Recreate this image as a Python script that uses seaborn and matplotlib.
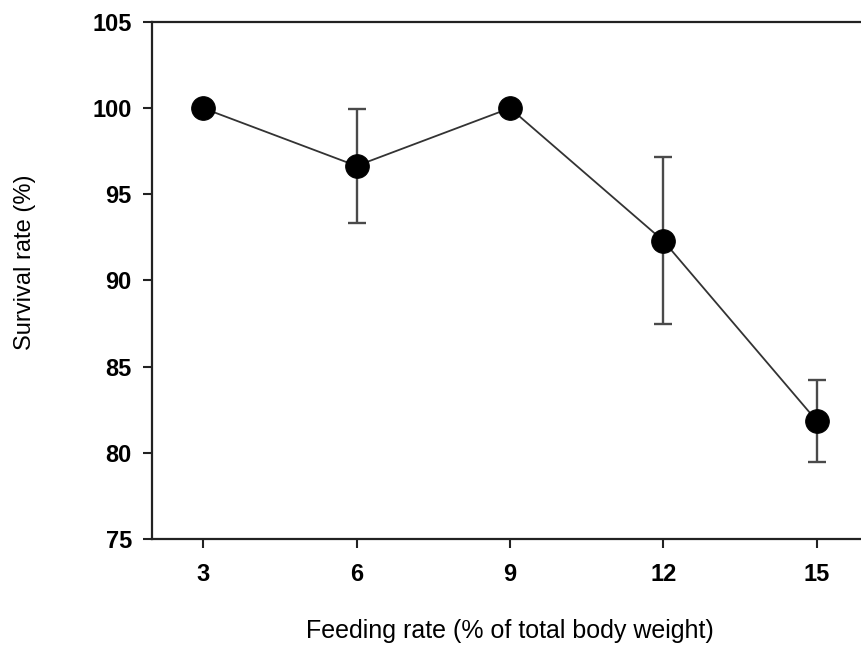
import matplotlib
matplotlib.use("Agg")
import matplotlib.pyplot as plt
import seaborn as sns
import pandas as pd

# values
feeding_rate = [3, 6, 9, 12, 15]
survival = [100.0, 96.65, 100.0, 92.3, 81.85]
survival_err = [0.0, 3.33, 0.0, 4.85, 2.4]
y_ticks = [75, 80, 85, 90, 95, 100, 105]

df = pd.DataFrame({"rate": feeding_rate, "survival": survival, "err": survival_err})

sns.set_style("ticks")
plt.rcParams["font.family"] = ["Liberation Sans", "DejaVu Sans"]
plt.rcParams["text.color"] = "black"
plt.rcParams["axes.labelcolor"] = "black"

fig = plt.figure(figsize=(8.61, 6.49), dpi=100)
ax = fig.add_axes([0.1765, 0.1695, 0.8316, 0.7966])

# error bars first so the markers sit on top
ax.errorbar(df["rate"], df["survival"], yerr=df["err"], fmt="none",
            ecolor="#4a4a4a", elinewidth=1.7, capsize=6.5, capthick=1.7, zorder=2)
sns.lineplot(data=df, x="rate", y="survival", ax=ax, color="#333333",
             linewidth=1.3, marker="o", markersize=17,
             markerfacecolor="black", markeredgecolor="black", zorder=3)

ax.set_xlim(2, 16)
ax.set_ylim(75, 105)
ax.set_xticks(feeding_rate)
ax.set_yticks(y_ticks)
ax.set_xticklabels([str(v) for v in feeding_rate], fontsize=17, fontweight="bold", color="black")
ax.set_yticklabels([str(v) for v in y_ticks], fontsize=17, fontweight="bold", color="black")
ax.tick_params(axis="both", direction="out", length=6.5, width=1.5, color="#222222")
ax.tick_params(axis="x", pad=11)
ax.tick_params(axis="y", pad=8)

ax.spines["right"].set_visible(False)
for s in ax.spines.values():
    s.set_linewidth(1.6)
    s.set_color("#222222")

ax.set_xlabel("Feeding rate (% of total body weight)", fontsize=18)
ax.set_ylabel("Survival rate (%)", fontsize=17)
ax.xaxis.set_label_coords(0.5, -0.178)
ax.yaxis.set_label_coords(-0.177, 0.536)
ax.xaxis.label.set_va("center")
ax.yaxis.label.set_va("center")

fig.savefig("out.png", dpi=100, facecolor="white")
